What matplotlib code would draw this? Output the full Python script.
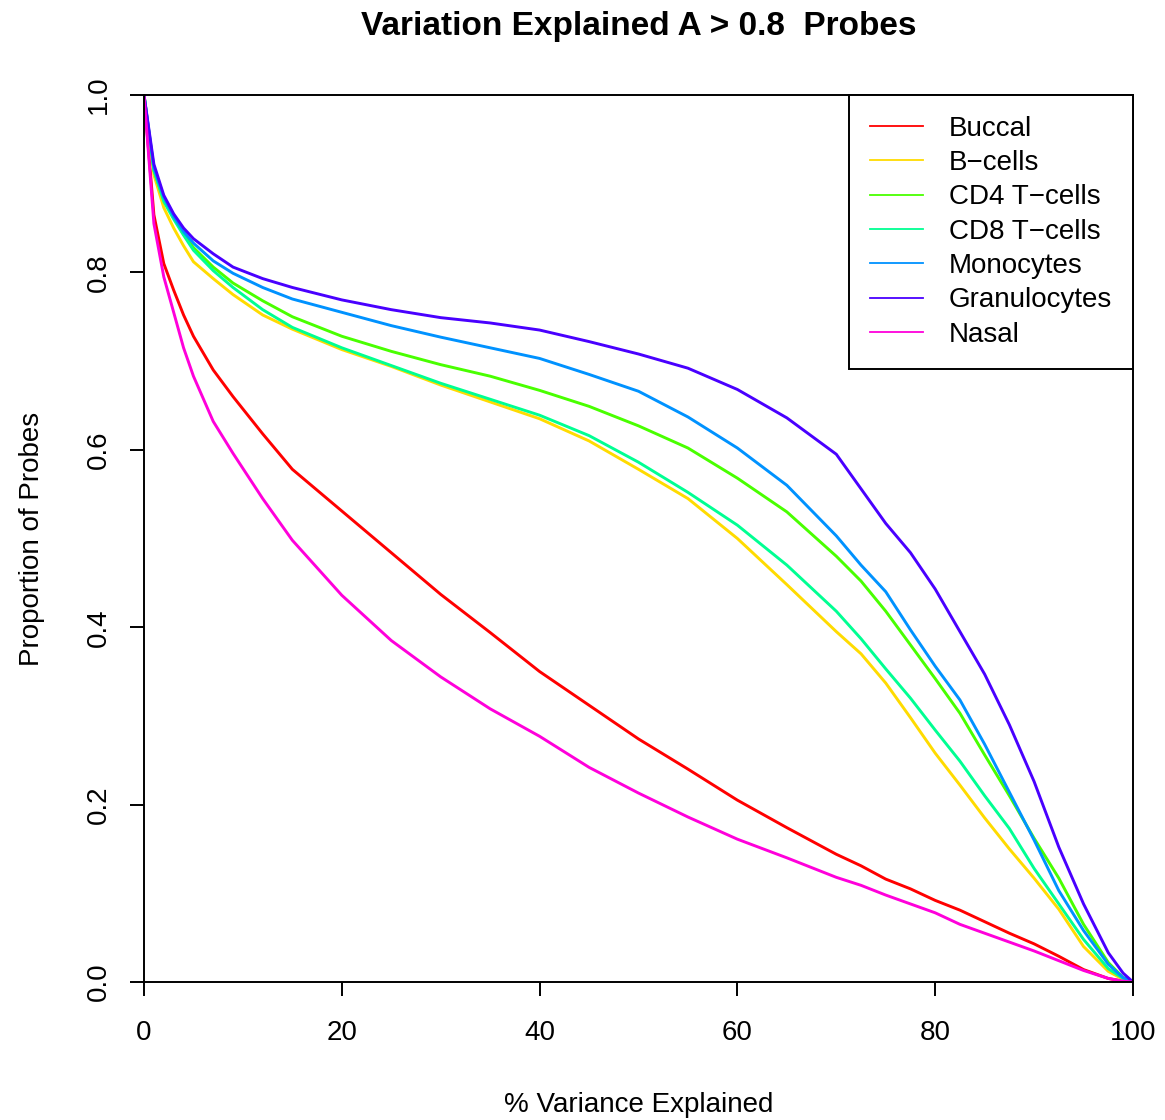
import numpy as np
import matplotlib
matplotlib.use("Agg")
import matplotlib.pyplot as plt

plt.rcParams['font.family'] = ['Liberation Sans', 'DejaVu Sans']

# % variance explained (x) and proportion of probes (y)
pct = [0, 1, 2, 3, 4, 5, 7, 9, 12, 15, 20, 25, 30, 35, 40, 45, 50, 55, 60, 65,
       70, 72.5, 75, 77.5, 80, 82.5, 85, 87.5, 90, 92.5, 95, 97.5, 99, 100]

buccal = [1.0, 0.865, 0.81, 0.78, 0.752, 0.728, 0.69, 0.66, 0.618, 0.578, 0.531,
          0.484, 0.437, 0.394, 0.350, 0.312, 0.274, 0.240, 0.205, 0.174, 0.144,
          0.131, 0.116, 0.105, 0.092, 0.081, 0.068, 0.055, 0.043, 0.029, 0.014,
          0.004, 0.001, 0.0]
bcells = [1.0, 0.91, 0.873, 0.85, 0.83, 0.812, 0.793, 0.775, 0.752, 0.736, 0.713,
          0.694, 0.673, 0.654, 0.635, 0.610, 0.578, 0.545, 0.500, 0.448, 0.395,
          0.370, 0.337, 0.298, 0.258, 0.222, 0.185, 0.150, 0.117, 0.082, 0.040,
          0.012, 0.003, 0.0]
cd4 = [1.0, 0.915, 0.882, 0.862, 0.843, 0.828, 0.806, 0.788, 0.768, 0.750, 0.728,
       0.711, 0.696, 0.683, 0.667, 0.649, 0.627, 0.602, 0.568, 0.530, 0.480,
       0.452, 0.418, 0.380, 0.342, 0.303, 0.256, 0.210, 0.162, 0.117, 0.065,
       0.022, 0.005, 0.0]
cd8 = [1.0, 0.915, 0.88, 0.86, 0.842, 0.825, 0.802, 0.783, 0.758, 0.738, 0.715,
       0.695, 0.675, 0.657, 0.639, 0.616, 0.586, 0.552, 0.515, 0.470, 0.418,
       0.387, 0.353, 0.320, 0.284, 0.249, 0.210, 0.173, 0.128, 0.088, 0.048,
       0.015, 0.004, 0.0]
monocytes = [1.0, 0.918, 0.885, 0.863, 0.846, 0.833, 0.813, 0.799, 0.783, 0.770,
             0.755, 0.740, 0.727, 0.715, 0.703, 0.685, 0.666, 0.637, 0.602, 0.560,
             0.503, 0.470, 0.440, 0.397, 0.356, 0.318, 0.268, 0.214, 0.160, 0.103,
             0.058, 0.020, 0.005, 0.0]
granulocytes = [1.0, 0.922, 0.887, 0.866, 0.850, 0.838, 0.821, 0.806, 0.793, 0.783,
                0.769, 0.758, 0.749, 0.743, 0.735, 0.722, 0.708, 0.692, 0.668, 0.636,
                0.595, 0.556, 0.517, 0.484, 0.443, 0.395, 0.347, 0.290, 0.226, 0.152,
                0.088, 0.033, 0.010, 0.0]
nasal = [1.0, 0.855, 0.795, 0.755, 0.715, 0.683, 0.632, 0.596, 0.545, 0.498, 0.436,
         0.385, 0.344, 0.308, 0.277, 0.242, 0.213, 0.186, 0.161, 0.140, 0.118,
         0.109, 0.098, 0.088, 0.078, 0.065, 0.055, 0.045, 0.035, 0.024, 0.013,
         0.004, 0.001, 0.0]

names = ["Buccal", "B\u2212cells", "CD4 T\u2212cells", "CD8 T\u2212cells",
         "Monocytes", "Granulocytes", "Nasal"]
series = [buccal, bcells, cd4, cd8, monocytes, granulocytes, nasal]
# R rainbow(7)
colours = ["#FF0000", "#FFDB00", "#49FF00", "#00FF92", "#0092FF", "#4900FF", "#FF00DB"]

W, H = 1165, 1120
fig = plt.figure(figsize=(W / 100, H / 100), dpi=100)
left, right, top, bottom = 144, 1133, 95, 982
ax = fig.add_axes([left / W, 1 - bottom / H, (right - left) / W, (bottom - top) / H])

for vals, name, col in zip(series, names, colours):
    ax.plot(pct, vals, color=col, lw=2.1, label=name)

ax.set_xlim(0, 100)
ax.set_ylim(0, 1)
ax.set_xticks([0, 20, 40, 60, 80, 100])
ax.set_yticks([0.0, 0.2, 0.4, 0.6, 0.8, 1.0])
ax.set_yticklabels(["0.0", "0.2", "0.4", "0.6", "0.8", "1.0"], rotation=90, va="center")
for s in ax.spines.values():
    s.set_linewidth(1.4)
ax.tick_params(axis="both", labelsize=20, length=10, width=1.4, direction="out")
ax.tick_params(axis="x", pad=17)
ax.tick_params(axis="y", pad=13)

leg = ax.legend(loc="upper right", bbox_to_anchor=(1, 1), borderaxespad=0,
                fancybox=False, edgecolor="black", framealpha=1, fontsize=20,
                handlelength=1.9, handletextpad=0.95, borderpad=0.75,
                labelspacing=0.3)
leg.get_frame().set_linewidth(1.4)
for h in leg.get_lines():
    h.set_linewidth(1.3)

cx = (left + right) / 2 / W
fig.text(cx, 1 - 27 / H, "Variation Explained A > 0.8  Probes", ha="center",
         va="center", fontsize=24, fontweight="bold")
fig.text(cx, 1 - 1112 / H, "% Variance Explained", ha="center", va="baseline",
         fontsize=20)
fig.text(39 / W, 1 - (top + bottom) / 2 / H, "Proportion of Probes", ha="center",
         va="baseline", rotation=90, rotation_mode="anchor", fontsize=20)

fig.savefig("out.png", dpi=100)
